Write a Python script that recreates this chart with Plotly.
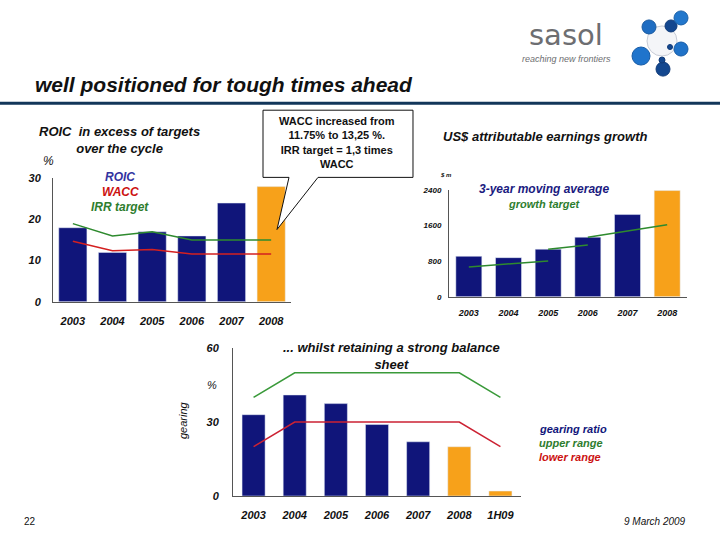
import plotly.graph_objects as go

W, H = 720, 540
FONT = "Liberation Sans, Arial, sans-serif"

# ---------------- data ----------------
years = ["2003", "2004", "2005", "2006", "2007", "2008"]
roic = [18, 12, 17, 16, 24, 28]
wacc = [14.7, 12.4, 12.7, 11.6, 11.6, 11.6]
irr_target = [19, 16, 17, 15, 15, 15]
roic_ticks = [0, 10, 20, 30]

earnings = [910, 880, 1070, 1340, 1850, 2390]
growth_seg1_x = ["2003", "2004", "2005"]
growth_seg1_y = [670, 740, 805]
growth_seg2_x = ["2005", "2006"]
growth_seg2_y = [1070, 1165]
growth_seg3_x = ["2006", "2007", "2008"]
growth_seg3_y = [1340, 1475, 1620]
earn_ticks = [0, 800, 1600, 2400]

gear_years = ["2003", "2004", "2005", "2006", "2007", "2008", "1H09"]
gearing = [33, 41, 37.5, 29, 22, 20, 2]
range_x = ["2003", "2004", "2008", "1H09"]
upper_range = [40, 50, 50, 40]
lower_range = [20, 30, 30, 20]
gear_ticks = [0, 30, 60]

NAVY = "#10157a"
ORANGE = "#f7a11a"
GREEN = "#2e8a2e"
RED = "#d42020"


def px(x):
    return x / W


def py(y):
    y = (y - 7.1) / 0.975
    return 1 - y / H


def bar_colors(cats, hi):
    return [ORANGE if c in hi else NAVY for c in cats]


fig = go.Figure()

# chart 1 : ROIC
fig.add_trace(go.Bar(x=years, y=roic, marker_color=bar_colors(years, ["2008"]),
                     width=0.71, xaxis="x", yaxis="y", showlegend=False))
fig.add_trace(go.Scatter(x=years, y=irr_target, mode="lines", line=dict(color=GREEN, width=1.5),
                         xaxis="x", yaxis="y", showlegend=False))
fig.add_trace(go.Scatter(x=years, y=wacc, mode="lines", line=dict(color=RED, width=1.5),
                         xaxis="x", yaxis="y", showlegend=False))

# chart 2 : earnings
fig.add_trace(go.Bar(x=years, y=earnings, marker_color=bar_colors(years, ["2008"]),
                     width=0.655, xaxis="x2", yaxis="y2", showlegend=False))
for sx, sy in [(growth_seg1_x, growth_seg1_y), (growth_seg2_x, growth_seg2_y),
               (growth_seg3_x, growth_seg3_y)]:
    fig.add_trace(go.Scatter(x=sx, y=sy, mode="lines", line=dict(color=GREEN, width=1.5),
                             xaxis="x2", yaxis="y2", showlegend=False))

# chart 3 : gearing
fig.add_trace(go.Bar(x=gear_years, y=gearing, marker_color=bar_colors(gear_years, ["2008", "1H09"]),
                     width=0.56, xaxis="x3", yaxis="y3", showlegend=False))
fig.add_trace(go.Scatter(x=range_x, y=upper_range, mode="lines", line=dict(color="#3a9a3a", width=1.5),
                         xaxis="x3", yaxis="y3", showlegend=False))
fig.add_trace(go.Scatter(x=range_x, y=lower_range, mode="lines", line=dict(color="#cc2233", width=1.5),
                         xaxis="x3", yaxis="y3", showlegend=False))


def xax(domain, size, standoff, anchor):
    return dict(domain=domain, anchor=anchor, type="category", showline=True, linecolor="#555",
                linewidth=1, showgrid=False, zeroline=False, ticks="",
                tickfont=dict(family=FONT, size=size, color="#111", weight="bold", style="italic"),
                ticklabelstandoff=standoff, fixedrange=True)


def yax(domain, rng, tickvals, size, standoff, anchor):
    return dict(domain=domain, anchor=anchor, range=rng, tickvals=tickvals, showline=True,
                linecolor="#555", linewidth=1, showgrid=False, zeroline=False, ticks="",
                tickfont=dict(family=FONT, size=size, color="#111", weight="bold", style="italic"),
                ticklabelstandoff=standoff, fixedrange=True)


fig.update_layout(
    width=W, height=H, margin=dict(l=0, r=0, t=0, b=0),
    paper_bgcolor="white", plot_bgcolor="white",
    font=dict(family=FONT),
    xaxis=xax([px(53), px(291)], 11, 9, "y"),
    yaxis=yax([py(302), py(179)], [0, 30], roic_ticks, 11, 9, "x"),
    xaxis2=xax([px(449), px(687)], 9, 7, "y2"),
    yaxis2=yax([py(297), py(190.7)], [0, 2400], earn_ticks, 8, 5, "x2"),
    xaxis3=xax([px(233), px(521)], 11, 9, "y3"),
    yaxis3=yax([py(495.7), py(348.3)], [0, 60], gear_ticks, 11, 11, "x3"),
)

shapes = []
# header rule
shapes.append(dict(type="line", xref="paper", yref="paper", x0=0, x1=1, y0=py(104), y1=py(104),
                   line=dict(color="#12365a", width=3)))
# callout box with pointer
pts = [(263, 111), (413, 111), (413, 178), (318, 178), (277, 230), (289, 178), (263, 178)]
path = "M " + " L ".join(f"{px(a):.5f},{py(b):.5f}" for a, b in pts) + " Z"
shapes.append(dict(type="path", xref="paper", yref="paper", path=path, fillcolor="white",
                   line=dict(color="#111", width=1), layer="above"))
# molecule logo
balls = [
    (662, 42, 15, "#f4f5f8", "#c8ccd6"),
    (649, 28, 7, "#1f6dc2", "#1a5aa0"),
    (671, 27, 6, "#13478f", "#0f3a78"),
    (681, 19, 7, "#2277cc", "#1a60a8"),
    (681, 50, 7, "#1f72c8", "#185ca6"),
    (641, 57, 9, "#1f74cc", "#185ca6"),
    (663, 70, 7, "#13478f", "#0f3a78"),
    (662, 61, 3, "#13478f", "#0f3a78"),
    (670, 48, 2.5, "#13478f", "#0f3a78"),
]
for cx, cy, r, fc, lc in balls:
    shapes.append(dict(type="circle", xref="paper", yref="paper",
                       x0=px(cx - r), x1=px(cx + r), y0=py(cy + r), y1=py(cy - r),
                       fillcolor=fc, line=dict(color=lc, width=1), layer="above"))
fig.update_layout(shapes=shapes)


def ann(text, x, y, size, color="#111", xanchor="center", bold=True, italic=True, angle=0,
        family=FONT):
    t = text
    if italic:
        t = f"<i>{t}</i>"
    if bold:
        t = f"<b>{t}</b>"
    fig.add_annotation(text=t, x=px(x), y=py(y), xref="paper", yref="paper", showarrow=False,
                       xanchor=xanchor, yanchor="middle", textangle=angle,
                       font=dict(family=family, size=size, color=color))


# header
ann("well positioned for tough times ahead", 33, 85, 21, xanchor="left")
ann("sasol", 566, 36, 29, color="#6d6e71", bold=False, italic=False, family="DejaVu Sans")
ann("reaching new frontiers", 566, 59.5, 9, color="#6d6e71", bold=False)

# chart 1 texts
ann("ROIC  in excess of targets<br>over the cycle", 119, 141, 13)
ann("%", 48, 162, 12, bold=False)
ann("ROIC", 120, 178, 12, color="#3333a0")
ann("WACC", 120, 193, 12, color="#cc1111")
ann("IRR target", 120, 208, 12, color="#2e7d2e")

# callout text
ann("WACC increased from<br>11.75% to 13,25 %.<br>IRR target = 1,3 times<br>WACC", 337, 143.5, 11,
    italic=False)

# chart 2 texts
ann("US$ attributable earnings growth", 545, 137, 13)
ann("$ m", 446, 176, 6)
ann("3-year moving average", 544, 190, 12, color="#1a1a80")
ann("growth target", 544, 205, 11, color="#2e7d2e")

# chart 3 texts
ann("... whilst retaining a strong balance<br>sheet", 392, 356, 13)
ann("%", 212, 385, 11, bold=False)
ann("gearing", 183, 420, 11, bold=False, angle=-90)
ann("gearing ratio", 537, 429, 11, color="#10157a", xanchor="left")
ann("upper range", 537, 443, 11, color="#2e7d2e", xanchor="left")
ann("lower range", 537, 457, 11, color="#cc1111", xanchor="left")

# footer
ann("22", 30, 521, 10, bold=False, italic=False)
ann("9 March 2009", 655, 521, 10, bold=False)

fig.write_html("out.html", config={"displayModeBar": False},
               post_script="document.body.style.margin='0';document.body.style.overflow='hidden';")
